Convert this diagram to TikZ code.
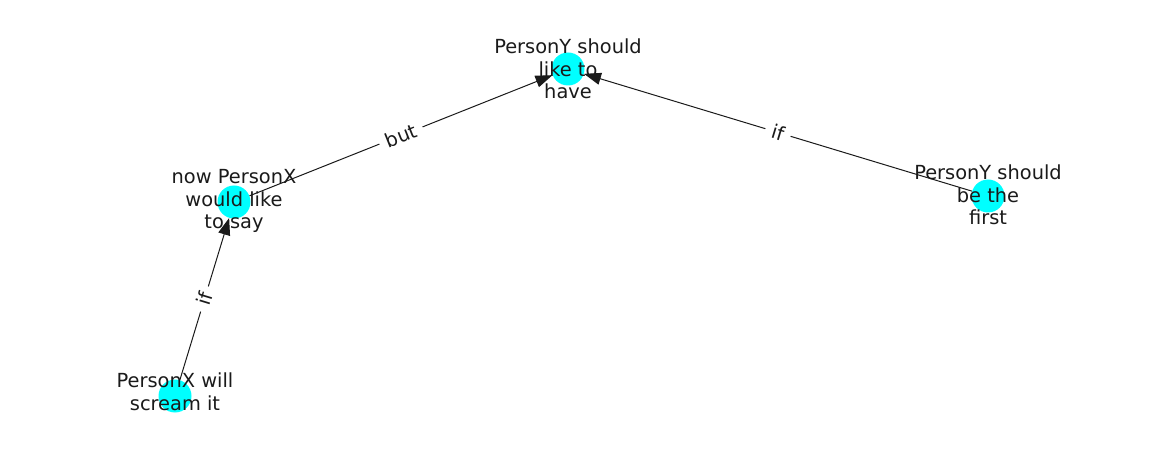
\documentclass[tikz,border=0pt]{standalone}
\usepackage{fontspec}
\setmainfont{DejaVu Sans}
\usetikzlibrary{arrows.meta}
\definecolor{nodecyan}{RGB}{0,255,255}
\definecolor{ink}{RGB}{26,26,26}
\tikzset{
  dot/.style={circle, fill=nodecyan, minimum size=33pt, inner sep=0pt},
  lbl/.style={align=center, text=ink, font=\fontsize{19.4}{22.5}\selectfont, inner sep=0pt},
  conn/.style={draw=ink, line width=1pt, -{Triangle[length=17pt,width=12pt]}},
  elbl/.style={sloped, fill=white, inner xsep=7pt, inner ysep=3pt, text=ink, font=\fontsize{19.4}{22.5}\selectfont}
}
\begin{document}
\begin{tikzpicture}[x=1pt,y=-1pt]
\useasboundingbox (0,0) rectangle (1162,462);
\node[dot] (A) at (568,69) {};
\node[dot] (B) at (234,202) {};
\node[dot] (C) at (988,196) {};
\node[dot] (D) at (175,396) {};
\draw[conn] (B) -- (A) node[elbl, midway] {but};
\draw[conn] (C) -- (A) node[elbl, midway] {if};
\draw[conn] (D) -- (B) node[elbl, midway] {if};
\node[lbl] (tA) at (568,69) {PersonY should\\like to\\have};
\node[lbl] (tB) at (234,201) {now PersonX\\would like\\to say};
\node[lbl] (tC) at (988,195) {PersonY should\\be the\\first};
\node[lbl] (tD) at (175,392) {PersonX will\\scream it};
\end{tikzpicture}
\end{document}
